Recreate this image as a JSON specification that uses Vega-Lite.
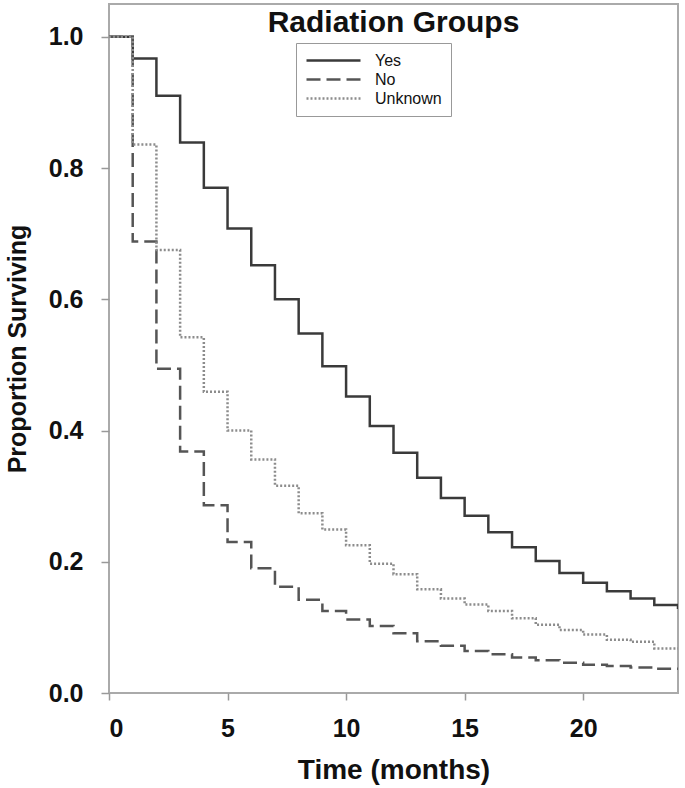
{
  "$schema": "https://vega.github.io/schema/vega-lite/v6.json",
  "width": 569,
  "height": 689,
  "autosize": {"type": "none"},
  "padding": {"left": 109, "top": 4, "right": 7, "bottom": 95},
  "background": "white",
  "datasets": {
    "curves": [
      {"t": 0, "s": 1.0, "g": "Yes"}, {"t": 1, "s": 0.967, "g": "Yes"}, {"t": 2, "s": 0.910, "g": "Yes"}, {"t": 3, "s": 0.839, "g": "Yes"},
      {"t": 4, "s": 0.770, "g": "Yes"}, {"t": 5, "s": 0.708, "g": "Yes"}, {"t": 6, "s": 0.652, "g": "Yes"}, {"t": 7, "s": 0.600, "g": "Yes"},
      {"t": 8, "s": 0.548, "g": "Yes"}, {"t": 9, "s": 0.498, "g": "Yes"}, {"t": 10, "s": 0.452, "g": "Yes"}, {"t": 11, "s": 0.407, "g": "Yes"},
      {"t": 12, "s": 0.366, "g": "Yes"}, {"t": 13, "s": 0.328, "g": "Yes"}, {"t": 14, "s": 0.297, "g": "Yes"}, {"t": 15, "s": 0.270, "g": "Yes"},
      {"t": 16, "s": 0.245, "g": "Yes"}, {"t": 17, "s": 0.222, "g": "Yes"}, {"t": 18, "s": 0.201, "g": "Yes"}, {"t": 19, "s": 0.183, "g": "Yes"},
      {"t": 20, "s": 0.168, "g": "Yes"}, {"t": 21, "s": 0.155, "g": "Yes"}, {"t": 22, "s": 0.144, "g": "Yes"}, {"t": 23, "s": 0.134, "g": "Yes"},
      {"t": 24, "s": 0.128, "g": "Yes"},
      {"t": 0, "s": 1.0, "g": "No"}, {"t": 1, "s": 0.688, "g": "No"}, {"t": 2, "s": 0.494, "g": "No"}, {"t": 3, "s": 0.368, "g": "No"},
      {"t": 4, "s": 0.286, "g": "No"}, {"t": 5, "s": 0.230, "g": "No"}, {"t": 6, "s": 0.190, "g": "No"}, {"t": 7, "s": 0.162, "g": "No"},
      {"t": 8, "s": 0.142, "g": "No"}, {"t": 9, "s": 0.125, "g": "No"}, {"t": 10, "s": 0.112, "g": "No"}, {"t": 11, "s": 0.102, "g": "No"},
      {"t": 12, "s": 0.091, "g": "No"}, {"t": 13, "s": 0.079, "g": "No"}, {"t": 14, "s": 0.072, "g": "No"}, {"t": 15, "s": 0.064, "g": "No"},
      {"t": 16, "s": 0.059, "g": "No"}, {"t": 17, "s": 0.054, "g": "No"}, {"t": 18, "s": 0.050, "g": "No"}, {"t": 19, "s": 0.046, "g": "No"},
      {"t": 20, "s": 0.043, "g": "No"}, {"t": 21, "s": 0.041, "g": "No"}, {"t": 22, "s": 0.039, "g": "No"}, {"t": 23, "s": 0.037, "g": "No"},
      {"t": 24, "s": 0.037, "g": "No"},
      {"t": 0, "s": 1.0, "g": "Unknown"}, {"t": 1, "s": 0.836, "g": "Unknown"}, {"t": 2, "s": 0.675, "g": "Unknown"}, {"t": 3, "s": 0.542, "g": "Unknown"},
      {"t": 4, "s": 0.459, "g": "Unknown"}, {"t": 5, "s": 0.400, "g": "Unknown"}, {"t": 6, "s": 0.356, "g": "Unknown"}, {"t": 7, "s": 0.316, "g": "Unknown"},
      {"t": 8, "s": 0.274, "g": "Unknown"}, {"t": 9, "s": 0.249, "g": "Unknown"}, {"t": 10, "s": 0.225, "g": "Unknown"}, {"t": 11, "s": 0.197, "g": "Unknown"},
      {"t": 12, "s": 0.181, "g": "Unknown"}, {"t": 13, "s": 0.158, "g": "Unknown"}, {"t": 14, "s": 0.144, "g": "Unknown"}, {"t": 15, "s": 0.135, "g": "Unknown"},
      {"t": 16, "s": 0.125, "g": "Unknown"}, {"t": 17, "s": 0.114, "g": "Unknown"}, {"t": 18, "s": 0.104, "g": "Unknown"}, {"t": 19, "s": 0.096, "g": "Unknown"},
      {"t": 20, "s": 0.089, "g": "Unknown"}, {"t": 21, "s": 0.081, "g": "Unknown"}, {"t": 22, "s": 0.078, "g": "Unknown"}, {"t": 23, "s": 0.068, "g": "Unknown"},
      {"t": 24, "s": 0.068, "g": "Unknown"}
    ],
    "heading": [{"label": "Radiation Groups"}]
  },
  "layer": [
    {
      "data": {"name": "curves"},
      "mark": {"type": "line", "interpolate": "step-after", "clip": true},
      "encoding": {
        "x": {
          "field": "t",
          "type": "quantitative",
          "scale": {"domain": [0, 24], "nice": false, "zero": false},
          "axis": {
            "title": "Time (months)",
            "values": [0, 5, 10, 15, 20],
            "format": "d",
            "grid": false,
            "domain": false,
            "tickSize": 7,
            "tickColor": "#999999",
            "tickWidth": 1.5,
            "labelPadding": 16,
            "labelFont": "Liberation Sans",
            "labelFontSize": 25,
            "labelFontWeight": "bold",
            "labelColor": "#111111",
            "titleFont": "Liberation Sans",
            "titleFontSize": 28,
            "titleFontWeight": "bold",
            "titleColor": "#111111",
            "titlePadding": 15
          }
        },
        "y": {
          "field": "s",
          "type": "quantitative",
          "scale": {"domain": [0, 1.05], "nice": false},
          "axis": {
            "title": "Proportion Surviving",
            "values": [0, 0.2, 0.4, 0.6, 0.8, 1.0],
            "format": ".1f",
            "grid": false,
            "domain": false,
            "tickSize": 8,
            "tickColor": "#999999",
            "tickWidth": 1.5,
            "labelPadding": 18,
            "labelFont": "Liberation Sans",
            "labelFontSize": 25,
            "labelFontWeight": "bold",
            "labelColor": "#111111",
            "titleFont": "Liberation Sans",
            "titleFontSize": 25,
            "titleFontWeight": "bold",
            "titleColor": "#111111",
            "titlePadding": 18
          }
        },
        "color": {
          "field": "g",
          "type": "nominal",
          "scale": {"domain": ["Yes", "No", "Unknown"], "range": ["#3a3a3a", "#555555", "#8c8c8c"]},
          "legend": {"title": null, "orient": "none", "legendX": 187, "legendY": 39}
        },
        "strokeDash": {
          "field": "g",
          "type": "nominal",
          "scale": {"domain": ["Yes", "No", "Unknown"], "range": [[1, 0], [14, 6], [2, 2]]},
          "legend": {"title": null, "orient": "none", "legendX": 187, "legendY": 39}
        },
        "strokeWidth": {
          "field": "g",
          "type": "nominal",
          "scale": {"domain": ["Yes", "No", "Unknown"], "range": [2.5, 2.5, 1.6]},
          "legend": {"title": null, "orient": "none", "legendX": 187, "legendY": 39}
        }
      }
    },
    {
      "data": {"name": "heading"},
      "mark": {
        "type": "text",
        "align": "center",
        "baseline": "alphabetic",
        "font": "Liberation Sans",
        "fontSize": 30,
        "fontWeight": "bold",
        "color": "#111111"
      },
      "encoding": {
        "x": {"datum": 12, "type": "quantitative"},
        "y": {"datum": 1.0073, "type": "quantitative"},
        "text": {"field": "label", "type": "nominal"}
      }
    }
  ],
  "config": {
    "view": {"stroke": "#aaaaaa", "strokeWidth": 2},
    "legend": {
      "strokeColor": "#999999",
      "padding": 9,
      "symbolType": "stroke",
      "symbolSize": 2916,
      "clipHeight": 17,
      "labelFont": "Liberation Sans",
      "labelFontSize": 16,
      "labelColor": "#111111",
      "labelOffset": 13,
      "rowPadding": 2
    }
  }
}
